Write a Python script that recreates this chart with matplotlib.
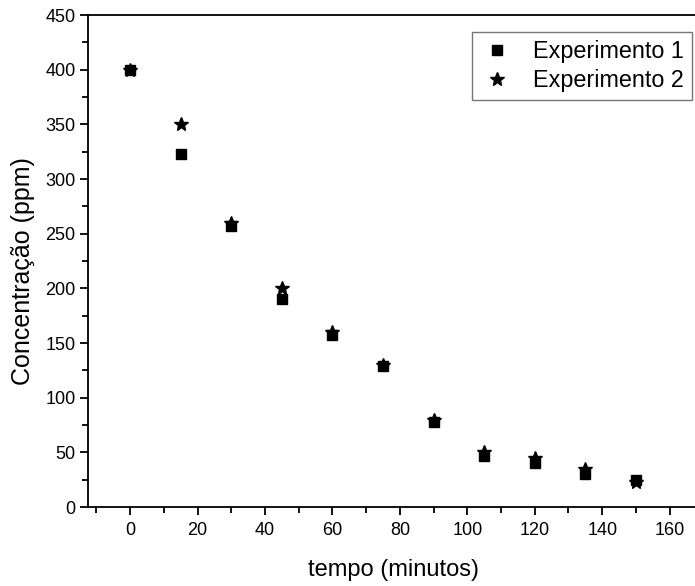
import numpy as np
import matplotlib.pyplot as plt
from matplotlib.ticker import MultipleLocator

plt.rcParams['font.family'] = ['Liberation Sans', 'DejaVu Sans']

# data
tempo = [0, 15, 30, 45, 60, 75, 90, 105, 120, 135, 150]
exp1 = [400, 323, 257, 190, 157, 129, 78, 47, 40, 30, 25]
exp2 = [400, 350, 260, 200, 160, 130, 80, 50, 45, 35, 23]

fig = plt.figure(figsize=(6.95, 5.86), dpi=100)
# axes run a little past the right edge, as in the original crop
ax = fig.add_axes([88 / 695, 79 / 586, 612 / 695, 492 / 586])

ax.plot(tempo, exp1, 's', color='black', markersize=7, label='Experimento 1')
ax.plot(tempo, exp2, '*', color='black', markersize=10.5, label='Experimento 2')

ax.set_xlim(-12.5, 169)
ax.set_ylim(0, 450)
ax.xaxis.set_major_locator(MultipleLocator(20))
ax.xaxis.set_minor_locator(MultipleLocator(10))
ax.yaxis.set_major_locator(MultipleLocator(50))
ax.yaxis.set_minor_locator(MultipleLocator(25))
ax.tick_params(which='major', direction='out', length=6, width=1.3, labelsize=13)
ax.tick_params(axis='x', pad=5)
ax.tick_params(axis='y', pad=3)
ax.tick_params(which='minor', direction='out', length=4, width=1.3)
ax.tick_params(top=False, right=False, which='both')
for s in ax.spines.values():
    s.set_linewidth(1.3)

ax.set_xlabel('tempo (minutos)', fontsize=17, labelpad=14)
ax.set_ylabel('Concentração (ppm)', fontsize=18)
ax.yaxis.set_label_coords(-0.087, 0.48)

leg = ax.legend(loc='upper left', bbox_to_anchor=(384 / 612, 1 - 17 / 492),
                fontsize=16.8, frameon=True, fancybox=False, handletextpad=0.85,
                borderpad=0.35, labelspacing=0.25, handlelength=1.4,
                borderaxespad=0, markerscale=0.95)
leg.get_frame().set_edgecolor('#555555')
leg.get_frame().set_linewidth(1)

plt.savefig('out.png', dpi=100)
